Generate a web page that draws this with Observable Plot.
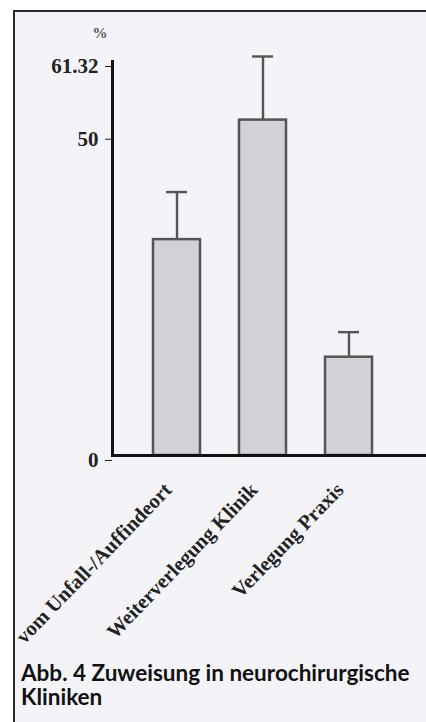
<!DOCTYPE html>
<html>
<head>
<meta charset="utf-8">
<script src="https://cdn.jsdelivr.net/npm/d3@7"></script>
<script src="https://cdn.jsdelivr.net/npm/@observablehq/plot@0.6"></script>
<style>
  html, body { margin: 0; padding: 0; background: #ffffff; overflow: hidden; }
  #page { position: relative; width: 426px; height: 722px; overflow: hidden; background: #ffffff; }
  #frame { position: absolute; left: 13px; top: 10px; width: 430px; height: 730px;
           border-left: 2px solid #2a2a2a; border-top: 2px solid #2a2a2a; background: #f4f4f8; }
  #chart { position: absolute; left: 0; top: 0; }
  #caption { position: absolute; left: 21px; top: 661px; width: 404px;
             font-family: Lato, "Open Sans", sans-serif; font-weight: 700; font-size: 22.5px;
             line-height: 24px; color: #111; }
</style>
</head>
<body>
<div id="page">
  <div id="frame"></div>
  <div id="chart"></div>
  <div id="caption">Abb. 4 Zuweisung in neurochirurgische Kliniken</div>
</div>
<script>
const categories = ["vom Unfall-/Auffindeort", "Weiterverlegung Klinik", "Verlegung Praxis"];
const values = [33.6, 52.2, 15.3];
const errors = [7.4, 9.9, 3.9];
const yTicks = [0, 50, 61.32];
const yTickLabels = ["0", "50", "61.32"];
const yUnit = "%";

const data = categories.map((c, i) => ({cat: c, value: values[i], upper: values[i] + errors[i]}));
const serif = "'Liberation Serif', 'DejaVu Serif', serif";

const chart = Plot.plot({
  width: 426,
  height: 660,
  marginLeft: 112,
  marginRight: 0,
  marginTop: 61,
  marginBottom: 205,
  style: {background: "transparent", overflow: "visible"},
  x: {domain: categories, paddingInner: 0.45, paddingOuter: 0.55, align: 0.43, axis: null},
  y: {domain: [0, 61.32], axis: null},
  marks: [
    Plot.ruleX(data, {x: "cat", y1: "value", y2: "upper", stroke: "#555", strokeWidth: 2.4}),
    Plot.tickY(data, {x: "cat", y: "upper", stroke: "#555", strokeWidth: 2.4, insetLeft: 13, insetRight: 13}),
    Plot.barY(data, {x: "cat", y: "value", fill: "#d1d1d7", stroke: "#555", strokeWidth: 2.5}),
    Plot.frame({anchor: "left", stroke: "#111", strokeWidth: 3}),
    Plot.frame({anchor: "bottom", stroke: "#111", strokeWidth: 3}),
    Plot.axisY({ticks: yTicks, tickFormat: (d, i) => yTickLabels[i], tickSize: 7, tickPadding: 7,
      tickStrokeWidth: 2, stroke: "#222", fontSize: 21, fontWeight: "bold", fontFamily: serif, fill: "#222", dy: 5, label: null}),
    Plot.text([yUnit], {text: d => d, frameAnchor: "top-left", dx: -12, dy: -28, fontSize: 15,
      fontWeight: "bold", fontFamily: serif, fill: "#555", dx: -20, dy: -34}),
    Plot.text(data, {x: "cat", y: 0, text: "cat", rotate: -46, textAnchor: "end", dx: -9, dy: 31,
      fontSize: 20.5, fontWeight: "bold", fontFamily: serif, fill: "#222"})
  ]
});
document.getElementById("chart").appendChild(chart);
</script>
</body>
</html>
